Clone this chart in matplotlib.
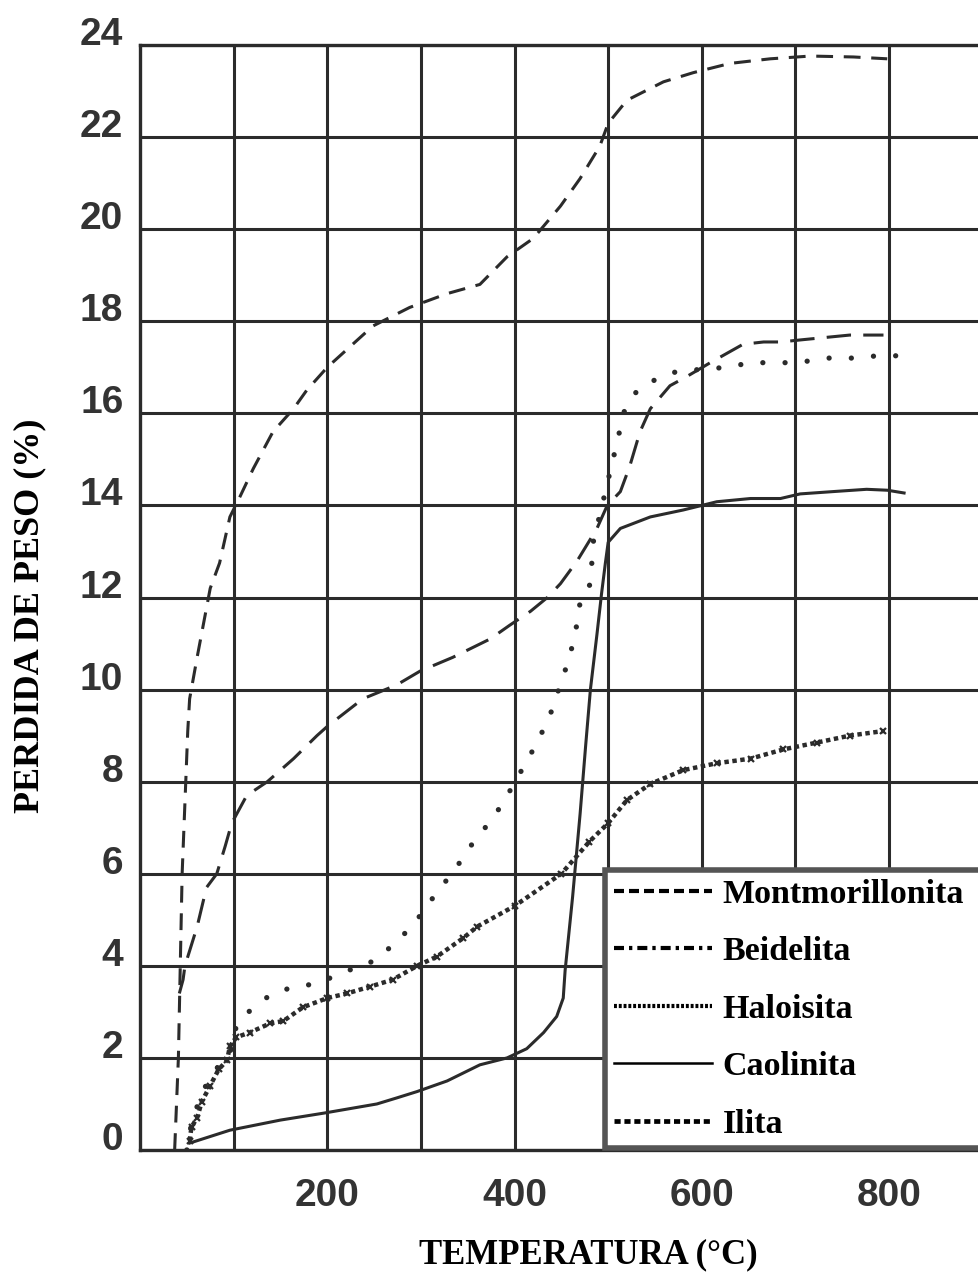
import numpy as np
import matplotlib
matplotlib.use("Agg")
import matplotlib.pyplot as plt
from matplotlib.lines import Line2D
from matplotlib.font_manager import FontProperties

# values (temperature in C, weight loss in %)
mont_t = [37, 41, 45, 51, 53, 61, 75, 85, 96, 107, 121, 142, 164, 178, 200, 238, 249, 288,
          328, 363, 392, 420, 449, 470, 491, 500, 520, 559, 591, 630, 673, 716, 762, 798]
mont_y = [0, 2, 6, 9.1, 9.8, 10.7, 12.2, 12.75, 13.75, 14.2, 14.8, 15.6, 16.1, 16.5, 17.0, 17.7,
          17.9, 18.3, 18.6, 18.8, 19.4, 19.8, 20.5, 21.1, 21.8, 22.3, 22.8, 23.2, 23.4, 23.6,
          23.7, 23.76, 23.74, 23.7]

beid_t = [42, 46, 48, 61, 71, 82, 91, 98, 114, 136, 164, 189, 200, 238, 274, 299, 334, 374, 395,
          417, 435, 449, 467, 488, 499, 513, 523, 534, 545, 566, 584, 609, 644, 666, 684, 708,
          758, 794]
beid_y = [3.4, 3.7, 4.0, 4.85, 5.7, 6.0, 6.6, 7.1, 7.7, 8.0, 8.5, 9.0, 9.2, 9.8, 10.1, 10.4, 10.7,
          11.1, 11.4, 11.7, 12.0, 12.3, 12.8, 13.5, 14.0, 14.3, 14.85, 15.6, 16.1, 16.6, 16.8,
          17.1, 17.5, 17.55, 17.55, 17.6, 17.7, 17.7]

halo_t = [50, 53, 64, 73, 83, 96, 103, 116, 141, 166, 185, 205, 222, 240, 256, 278, 294, 310, 321,
          337, 349, 361, 380, 395, 409, 420, 430, 438, 452, 459, 463, 467, 470, 481, 484, 497,
          504, 511, 516, 531, 547, 572, 596, 627, 652, 678, 703, 732, 762, 788, 815]
halo_y = [0, 0.4, 1.15, 1.5, 1.8, 2.1, 2.7, 3.0, 3.4, 3.55, 3.6, 3.75, 3.9, 4.0, 4.2, 4.6, 4.95,
          5.4, 5.7, 6.1, 6.5, 6.8, 7.3, 7.8, 8.3, 8.7, 9.1, 9.45, 10.3, 10.7, 11.1, 11.45, 11.9,
          12.3, 13.2, 14.3, 14.9, 15.5, 16.0, 16.5, 16.7, 16.9, 16.95, 17.0, 17.1, 17.1, 17.1,
          17.2, 17.2, 17.25, 17.25]

cao_t = [53, 96, 150, 196, 253, 274, 296, 328, 363, 392, 413, 431, 445, 452, 454, 462, 470, 476,
         481, 488, 493, 497, 500, 513, 545, 580, 616, 652, 684, 705, 740, 776, 798, 816]
cao_y = [0.15, 0.43, 0.65, 0.8, 1.0, 1.13, 1.27, 1.5, 1.85, 2.0, 2.2, 2.55, 2.9, 3.3, 3.9, 5.5,
         7.3, 8.8, 10.0, 11.2, 12.1, 12.75, 13.2, 13.5, 13.75, 13.9, 14.08, 14.15, 14.15, 14.25,
         14.3, 14.35, 14.33, 14.27]

ili_t = [53, 55, 61, 66, 75, 84, 93, 96, 103, 117, 139, 153, 174, 200, 221, 246, 270, 296, 317,
         345, 360, 400, 450, 480, 500, 520, 545, 580, 616, 652, 687, 723, 758, 794]
ili_y = [0.2, 0.5, 0.7, 1.05, 1.4, 1.75, 1.95, 2.25, 2.45, 2.55, 2.75, 2.8, 3.1, 3.3, 3.4, 3.55,
         3.7, 4.0, 4.2, 4.6, 4.85, 5.3, 6.0, 6.7, 7.1, 7.6, 7.95, 8.25, 8.4, 8.5, 8.7, 8.85, 9.0,
         9.1]

labels = ['Montmorillonita', 'Beidelita', 'Haloisita', 'Caolinita', 'Ilita']
x_ticks = [200, 400, 600, 800]
y_ticks = list(range(0, 25, 2))

ink = '#2b2b2b'
W, H = 979, 1282

fig = plt.figure(figsize=(W / 100, H / 100), dpi=100)
ax = fig.add_axes([140 / W, 1 - 1150 / H, 1 - 140 / W, (1150 - 45) / H])

ax.plot(mont_t, mont_y, color=ink, lw=2.2, ls=(0, (5.5, 3.5)))
ax.plot(beid_t, beid_y, color=ink, lw=2.2, ls=(0, (8, 4)))
ax.plot(halo_t, halo_y, color=ink, lw=3.8, ls=(0, (0.01, 4.2)), dash_capstyle='round')
ax.plot(cao_t, cao_y, color=ink, lw=2.2)
ax.plot(ili_t, ili_y, color=ink, lw=3.2, ls=(0, (1.0, 0.8)))
ax.plot(ili_t, ili_y, color=ink, lw=0, marker='x', ms=5, mew=1.6)

ax.set_xlim(0, 896)
ax.set_ylim(0, 24)
ax.set_xticks(x_ticks)
ax.set_xticks(range(100, 900, 100), minor=True)
ax.set_yticks(y_ticks)
ax.grid(True, which='both', color=ink, lw=2.2)
ax.set_axisbelow(True)
for s in ['left', 'top', 'bottom']:
    ax.spines[s].set_color(ink)
    ax.spines[s].set_linewidth(2.4)
ax.spines['right'].set_visible(False)

tick_font = FontProperties(family=['Liberation Sans', 'DejaVu Sans'], weight='bold', size=28)
ax.tick_params(which='both', length=0)
ax.tick_params(axis='x', pad=20)
ax.tick_params(axis='y', pad=12)
ax.set_xticklabels([str(t) for t in x_ticks], fontproperties=tick_font, color='#333333')
ax.set_yticklabels([str(t) for t in y_ticks], fontproperties=tick_font, color='#333333')
for lbl in ax.get_yticklabels():
    lbl.set_va('baseline')

serif_bold = FontProperties(family=['Liberation Serif', 'DejaVu Serif'], weight='bold', size=26)
fig.text(30 / W, 1 - 616 / H, 'PERDIDA DE PESO (%)', rotation=90, ha='center', va='center',
         fontproperties=serif_bold)
fig.text(588 / W, 1 - 1255 / H, 'TEMPERATURA (°C)', ha='center', va='center',
         fontproperties=FontProperties(family=['Liberation Serif', 'DejaVu Serif'],
                                       weight='bold', size=25))

# legend handles drawn with the styles of the original key
handles = [
    Line2D([], [], color='black', lw=3, ls=(0, (2.4, 1.2))),
    Line2D([], [], color='black', lw=3, ls=(0, (2.4, 1.2, 0.8, 1.2))),
    Line2D([], [], color='black', lw=3, ls=(0, (0.7, 0.45))),
    Line2D([], [], color='black', lw=1.8),
    Line2D([], [], color='black', lw=3.4, ls=(0, (1.3, 0.8))),
]
# the key box runs off the right edge of the scan, so let it expand past the figure
leg = ax.legend(handles, labels, loc='upper left',
                bbox_to_anchor=(605 / W, 0, 420 / W, 1 - 870 / H), mode='expand',
                bbox_transform=fig.transFigure, frameon=True, fancybox=False,
                edgecolor='#555555', framealpha=1, borderaxespad=0, borderpad=0.25,
                handlelength=2.9, handletextpad=0.3, labelspacing=0.78,
                prop=FontProperties(family=['Liberation Serif', 'DejaVu Serif'],
                                    weight='bold', size=24.5))
leg.get_frame().set_linewidth(4)

fig.savefig('out.png', dpi=100)
